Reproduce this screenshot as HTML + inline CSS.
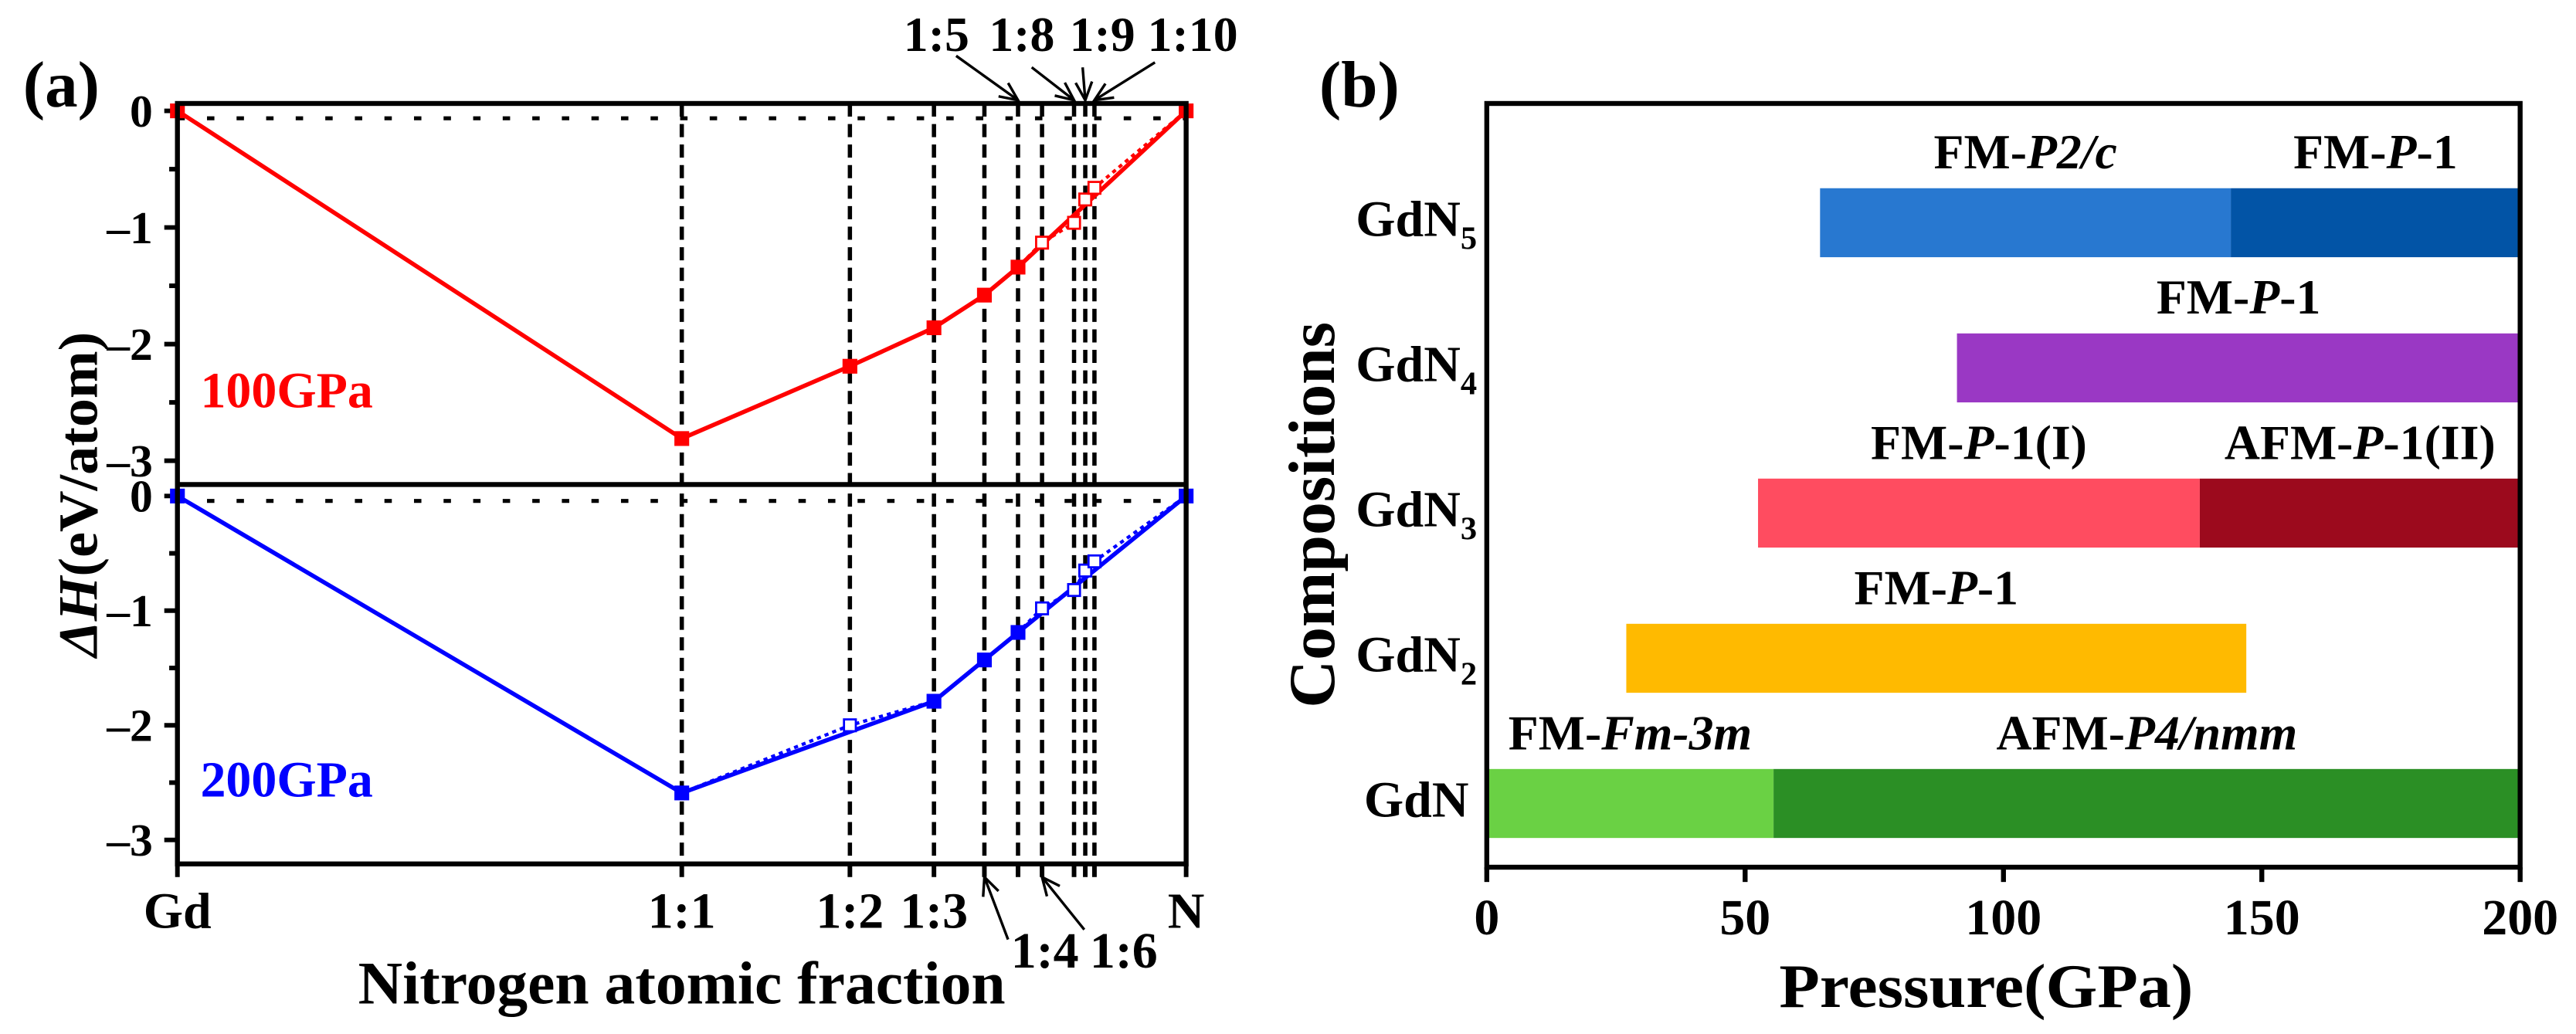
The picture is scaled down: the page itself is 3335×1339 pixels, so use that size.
<!DOCTYPE html>
<html><head><meta charset="utf-8"><style>
html,body{margin:0;padding:0;background:#fff;}
svg{display:block;}
text{font-family:"Liberation Serif","DejaVu Serif",serif;font-weight:bold;fill:#000;}
</style></head><body>
<svg id="fig" width="3335" height="1339" viewBox="0 0 1568 629.55" preserveAspectRatio="none" xmlns="http://www.w3.org/2000/svg">
<defs>
<marker id="arr" markerUnits="userSpaceOnUse" markerWidth="14" markerHeight="14" refX="12" refY="6" orient="auto">
<path d="M1,1 L12,6 L1,11" fill="none" stroke="#000" stroke-width="1.6"/>
</marker>
</defs>
<rect x="0" y="0" width="1568" height="629.55" fill="#fff"/>

<text x="14" y="65" font-size="40">(a)</text>
<text x="122" y="248" font-size="31" style="fill:#f00">100GPa</text>
<text x="122" y="485" font-size="31" style="fill:#00f">200GPa</text>
<text transform="translate(59,301) rotate(-90)" text-anchor="middle" font-size="34" textLength="198" lengthAdjust="spacingAndGlyphs"><tspan font-style="italic">ΔH</tspan>(eV/atom)</text>
<text x="415" y="611" text-anchor="middle" font-size="37" textLength="394" lengthAdjust="spacingAndGlyphs">Nitrogen atomic fraction</text>
<g id="ga"></g>

<text x="803" y="65" font-size="40">(b)</text>
<text transform="translate(812,313.5) rotate(-90)" text-anchor="middle" font-size="40" textLength="235" lengthAdjust="spacingAndGlyphs">Compositions</text>
<text x="1209" y="613" text-anchor="middle" font-size="38" textLength="252" lengthAdjust="spacingAndGlyphs">Pressure(GPa)</text>
<g id="gb"></g>
</svg>
<script>
const fracLabels = ['Gd','1:1','1:2','1:3','1:4','1:5','1:6','1:8','1:9','1:10','N'];
const fractions = [0, 1/2, 2/3, 3/4, 4/5, 5/6, 6/7, 8/9, 9/10, 10/11, 1];
const h100 = [0, -2.81, -2.19, -1.86, -1.58, -1.34, -1.13, -0.96, -0.76, -0.66, 0];
const stable100 = [1,1,1,1,1,1,0,0,0,0,1];
const h200 = [0, -2.59, -2.00, -1.79, -1.43, -1.19, -0.98, -0.82, -0.65, -0.57, 0];
const stable200 = [1,1,0,1,1,1,0,0,0,0,1];
const yTicks = [0, -1, -2, -3];
const bottomLabels = ['Gd','1:1','1:2','1:3','N'];
const arrowBottom = ['1:4','1:6'];
const arrowTop = ['1:5','1:8','1:9','1:10'];

const compositions = ['GdN','GdN2','GdN3','GdN4','GdN5'];
const segComp  = [0, 0, 1, 2, 2, 3, 4, 4];
const segStart = [0, 55.5, 27, 52.5, 138, 91, 64.5, 144];
const segEnd   = [55.5, 200, 147, 138, 200, 200, 144, 200];
const segColor = ['#6ad144','#2b8f25','#ffba00','#ff4c60','#9c0a1d','#9a38c4','#2878d0','#0254a6'];
const segLabelPlain = ['FM-','AFM-','FM-','FM-','AFM-','FM-','FM-','FM-'];
const segLabelItal  = ['Fm-3m','P4/nmm','P','P','P','P','P2/c','P'];
const segLabelTail  = ['','','-1','-1(I)','-1(II)','-1','','-1'];
const pTicks = [0, 50, 100, 150, 200];

const NS = 'http://www.w3.org/2000/svg';
function mk(parent, tag, attrs){ const e=document.createElementNS(NS,tag); for(const k in attrs) e.setAttribute(k,attrs[k]); parent.appendChild(e); return e; }

const AX0=108, AX1=722, ATOP=63, AMID=295, ABOT=526;
const xs = f => AX0 + (AX1-AX0)*f;
const yU = v => 67.5 - 71*v;
const yL = v => 302 - 69.8*v;
const ga = document.getElementById('ga');

let e;
e = mk(ga,'line',{x1:AX0,x2:AX1,y1:yU(0)+4.5,y2:yU(0)+4.5,stroke:'#000','stroke-width':2.4,'stroke-dasharray':'4.5,13.5'});
 
e = mk(ga,'line',{x1:AX0,x2:AX1,y1:yL(0)+3,y2:yL(0)+3,stroke:'#000','stroke-width':2.4,'stroke-dasharray':'4.5,13.5'});
 

for(let i=1;i<fractions.length-1;i++){
  e = mk(ga,'line',{x1:xs(fractions[i]),x2:xs(fractions[i]),y1:ATOP,y2:ABOT,stroke:'#000','stroke-width':2.6,'stroke-dasharray':'8,4.5'});
  
  
}
for(let i=0;i<fractions.length;i++){
  e = mk(ga,'line',{x1:xs(fractions[i]),x2:xs(fractions[i]),y1:ABOT,y2:ABOT+8,stroke:'#000','stroke-width':2.8});
   
}
[[yU,'upper'],[yL,'lower']].forEach(([ys,nm])=>{
  yTicks.forEach(v=>{
    e = mk(ga,'line',{x1:AX0-8,x2:AX0,y1:ys(v),y2:ys(v),stroke:'#000','stroke-width':2.8});
     
    e = mk(ga,'text',{x:93,y:ys(v)+9.5,'text-anchor':'end','font-size':28});
    e.textContent = v===0 ? '0' : '\u2013'+Math.abs(v);
     
    if(v>-3){
      e = mk(ga,'line',{x1:AX0-5,x2:AX0,y1:ys(v-0.5),y2:ys(v-0.5),stroke:'#000','stroke-width':2.8});
       
    }
  });
});

function series(vals, stable, ys, color, nm){
  const all = fractions.map((f,i)=>xs(f)+','+ys(vals[i])).join(' ');
  e = mk(ga,'polyline',{points:all,fill:'none',stroke:color,'stroke-width':2,'stroke-dasharray':'2.5,2.5'});
   
  const hull = fractions.map((f,i)=>stable[i]?xs(f)+','+ys(vals[i]):null).filter(Boolean).join(' ');
  e = mk(ga,'polyline',{points:hull,fill:'none',stroke:color,'stroke-width':2.6});
   
  fractions.forEach((f,i)=>{
    if(stable[i]){
      e = mk(ga,'rect',{x:xs(f)-4.5,y:ys(vals[i])-4.5,width:9,height:9,fill:color});
      
    } else {
      e = mk(ga,'rect',{x:xs(f)-3.6,y:ys(vals[i])-3.6,width:7.2,height:7.2,fill:'#fff',stroke:color,'stroke-width':1.3});
      
    }
    
  });
}
series(h100, stable100, yU, '#ff0000', '100gpa');
series(h200, stable200, yL, '#0000ff', '200gpa');

e = mk(ga,'rect',{x:AX0,y:ATOP,width:AX1-AX0,height:ABOT-ATOP,fill:'none',stroke:'#000','stroke-width':3});
 
e = mk(ga,'line',{x1:AX0,x2:AX1,y1:AMID,y2:AMID,stroke:'#000','stroke-width':3});
 

bottomLabels.forEach(lb=>{
  const i = fracLabels.indexOf(lb);
  e = mk(ga,'text',{x:xs(fractions[i]),y:565,'text-anchor':'middle','font-size':31});
  e.textContent = lb;
   
});
const botPos = {'1:4':[636,613.6,572],'1:6':[684,660,566]};
arrowBottom.forEach(lb=>{
  const i = fracLabels.indexOf(lb); const p = botPos[lb];
  e = mk(ga,'text',{x:p[0],y:589,'text-anchor':'middle','font-size':31}); e.textContent=lb;
   
  e = mk(ga,'line',{x1:p[1],y1:p[2],x2:xs(fractions[i]),y2:ABOT+8,stroke:'#000','stroke-width':1.6,'marker-end':'url(#arr)'});
   
});
const topPos = {'1:5':[570,582,34],'1:8':[622,628,41],'1:9':[671,659,41],'1:10':[726,703,38]};
arrowTop.forEach(lb=>{
  const i = fracLabels.indexOf(lb); const p = topPos[lb];
  e = mk(ga,'text',{x:p[0],y:31,'text-anchor':'middle','font-size':30}); e.textContent=lb;
   
  e = mk(ga,'line',{x1:p[1],y1:p[2],x2:xs(fractions[i]),y2:ATOP-2,stroke:'#000','stroke-width':1.6,'marker-end':'url(#arr)'});
   
});

const BX0=905, BX1=1534, BTOP=63, BBOT=528;
const px = p => BX0 + (BX1-BX0)*p/200;
const cy = i => 489.2 - 88.4*i;
const BH = 42;
const gb = document.getElementById('gb');
for(let s=0;s<segComp.length;s++){
  const yc = cy(segComp[s]);
  e = mk(gb,'rect',{x:px(segStart[s]),y:yc-BH/2,width:px(segEnd[s])-px(segStart[s]),height:BH,fill:segColor[s]});
  
  
  const t = mk(gb,'text',{x:(px(segStart[s])+px(segEnd[s]))/2,y:yc-BH/2-12,'text-anchor':'middle','font-size':30});
  
  
  const a=document.createElementNS(NS,'tspan'); a.textContent=segLabelPlain[s]; t.appendChild(a);
  const b=document.createElementNS(NS,'tspan'); b.setAttribute('font-style','italic'); b.textContent=segLabelItal[s]; t.appendChild(b);
  const c=document.createElementNS(NS,'tspan'); c.textContent=segLabelTail[s]; t.appendChild(c);
}
compositions.forEach((c,i)=>{
  const m = c.match(/^GdN(\d?)$/);
  const t = mk(gb,'text',{x:m[1]?899:894,y:cy(i)+8,'text-anchor':'end','font-size':31});
  
  
  const a=document.createElementNS(NS,'tspan'); a.textContent='GdN'; t.appendChild(a);
  if(m[1]){ const b=document.createElementNS(NS,'tspan'); b.setAttribute('font-size','20'); b.setAttribute('dy','8'); b.textContent=m[1]; t.appendChild(b); }
});
pTicks.forEach(p=>{
  e = mk(gb,'line',{x1:px(p),x2:px(p),y1:BBOT,y2:BBOT+9,stroke:'#000','stroke-width':3});
   
  e = mk(gb,'text',{x:px(p),y:569,'text-anchor':'middle','font-size':31}); e.textContent=p;
   
});
e = mk(gb,'rect',{x:BX0,y:BTOP,width:BX1-BX0,height:BBOT-BTOP,fill:'none',stroke:'#000','stroke-width':3});
 
</script>
</body></html>
